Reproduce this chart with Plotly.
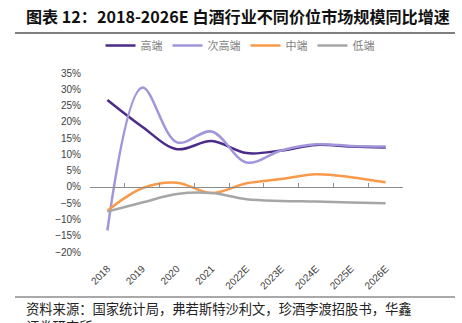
import plotly.graph_objects as go

categories = ["2018", "2019", "2020", "2021", "2022E", "2023E", "2024E", "2025E", "2026E"]
high_end = [26.7, 18.5, 11.6, 14.1, 10.4, 11.2, 12.9, 12.4, 12.1]
sub_high_end = [-13.4, 30.5, 13.7, 17.0, 7.5, 11.2, 13.1, 12.6, 12.4]
mid_end = [-7.3, -0.4, 1.3, -1.9, 1.1, 2.4, 3.9, 3.0, 1.4]
low_end = [-7.6, -4.8, -2.2, -1.9, -3.8, -4.3, -4.5, -4.8, -5.0]
series_names = ["高端", "次高端", "中端", "低端"]
colors = ["#4b2a8a", "#a395d9", "#f9994a", "#a6a6a6"]
y_ticks = list(range(-20, 40, 5))
y_range = [-20, 35]

W, H = 462, 323
L, R, T, B = 90, 403, 73, 252


def px(x):
    return (x - L) / (R - L)


def py(y):
    return (B - y) / (B - T)


fig = go.Figure()
for name, vals, c in zip(series_names, [high_end, sub_high_end, mid_end, low_end], colors):
    fig.add_trace(go.Scatter(
        x=categories, y=vals, name=name, mode="lines",
        line=dict(color=c, width=2.5, shape="spline", smoothing=1.0),
        hoverinfo="skip",
    ))

# invisible helper trace so the zero-axis (x2) renders
fig.add_trace(go.Scatter(x=categories, y=[0] * len(categories), xaxis="x2", mode="lines",
                         line=dict(width=0), opacity=0, showlegend=False, hoverinfo="skip"))

zero_pos = (0 - y_range[0]) / (y_range[1] - y_range[0])

fig.update_layout(
    width=W, height=H, autosize=False,
    margin=dict(l=L, r=W - R, t=T, b=H - B, pad=0),
    paper_bgcolor="white", plot_bgcolor="white",
    font=dict(family="Liberation Sans, Arial, sans-serif", color="#333333"),
    showlegend=True,
    legend=dict(orientation="h", x=px(240), y=py(45.5), xanchor="center", yanchor="middle",
                font=dict(family="Noto Sans CJK SC", size=11, color="#7f7f7f"),
                itemwidth=30, tracegroupgap=0, bgcolor="rgba(0,0,0,0)"),
    xaxis=dict(type="category", categoryarray=categories, range=[-0.5, 8.5],
               showline=False, showgrid=False, zeroline=False,
               tickangle=-45, ticks="outside", ticklen=6, tickcolor="rgba(0,0,0,0)",
               tickfont=dict(size=10, color="#404040")),
    xaxis2=dict(type="category", categoryarray=categories, range=[-0.5, 8.5],
                overlaying="x", anchor="free", position=zero_pos, side="bottom",
                showline=True, linecolor="#8c8c8c", linewidth=1.2,
                ticks="inside", ticklen=4, tickcolor="#8c8c8c", tickwidth=1,
                tickson="boundaries", showticklabels=False, showgrid=False, zeroline=False),
    yaxis=dict(range=y_range, tickvals=y_ticks, ticktext=[f"{v}%" if v >= 0 else f"\u2212{-v}%" for v in y_ticks],
               showline=False, showgrid=False, zeroline=False,
               ticks="outside", ticklen=6, tickcolor="rgba(0,0,0,0)",
               tickfont=dict(size=10, color="#404040")),
)

# title and frame lines
fig.add_annotation(text="<b>图表 12：2018-2026E 白酒行业不同价位市场规模同比增速</b>",
                   xref="paper", yref="paper", x=px(24), y=py(16), xanchor="left", yanchor="middle",
                   showarrow=False, font=dict(family="Noto Sans CJK SC", size=16.1, color="#111111"))
fig.add_shape(type="line", xref="paper", yref="paper", x0=px(15), x1=px(455), y0=py(33), y1=py(33),
              line=dict(color="#555555", width=1.5))
fig.add_shape(type="line", xref="paper", yref="paper", x0=px(15), x1=px(455), y0=py(297), y1=py(297),
              line=dict(color="#555555", width=1.2))
fig.add_annotation(text="资料来源：国家统计局，弗若斯特沙利文，珍酒李渡招股书，华鑫",
                   xref="paper", yref="paper", x=px(24), y=py(308), xanchor="left", yanchor="middle",
                   showarrow=False, font=dict(family="Noto Sans CJK SC", size=13.3, color="#222222"))
fig.add_annotation(text="证券研究所",
                   xref="paper", yref="paper", x=px(24), y=py(326), xanchor="left", yanchor="middle",
                   showarrow=False, font=dict(family="Noto Sans CJK SC", size=13.3, color="#222222"))

fig.write_html("out.html")
